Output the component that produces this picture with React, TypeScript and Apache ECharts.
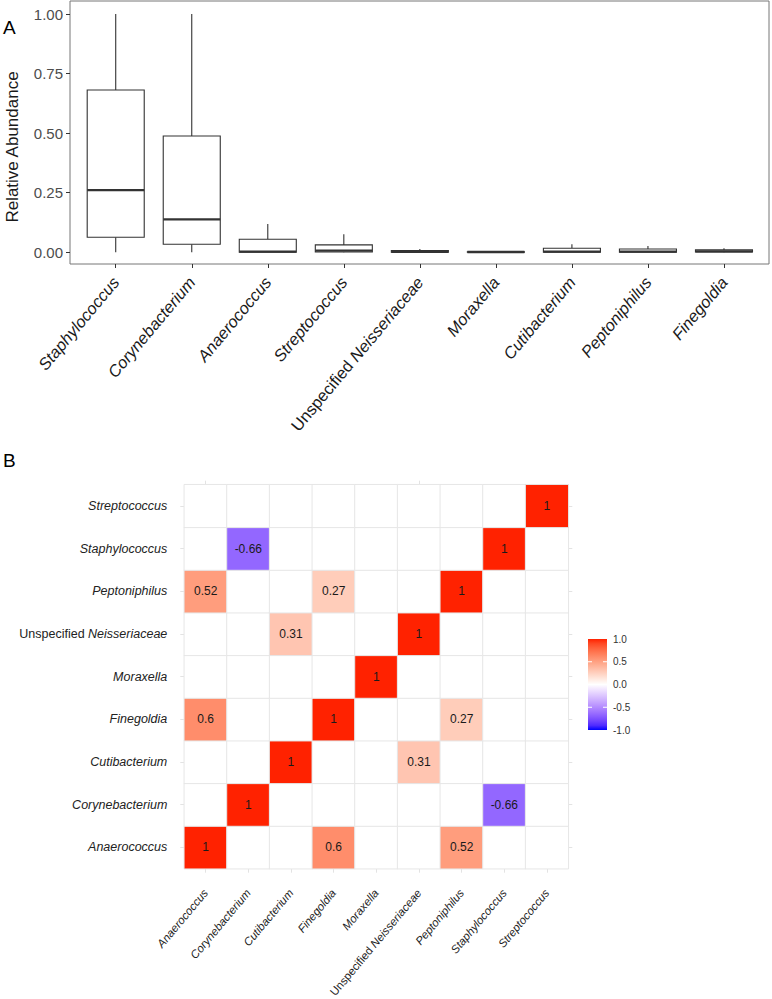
import React, { useEffect, useRef } from "react";
import * as echarts from "echarts";

// ---------- Panel A data (box plot of relative abundance) ----------
const boxCategories = [
  "Staphylococcus",
  "Corynebacterium",
  "Anaerococcus",
  "Streptococcus",
  "Unspecified Neisseriaceae",
  "Moraxella",
  "Cutibacterium",
  "Peptoniphilus",
  "Finegoldia",
];
const boxMin = [0, 0, 0, 0, 0, 0, 0, 0, 0];
const boxQ1 = [0.063, 0.034, 0, 0.001, 0, 0, 0, 0, 0.001];
const boxMedian = [0.261, 0.138, 0.003, 0.007, 0.002, 0.001, 0.003, 0.003, 0.004];
const boxQ3 = [0.681, 0.488, 0.055, 0.031, 0.007, 0.002, 0.017, 0.014, 0.01];
const boxMax = [1.0, 1.0, 0.119, 0.076, 0.014, 0.003, 0.034, 0.026, 0.017];
const abundanceTicks = { min: 0, max: 1, step: 0.25 };

// ---------- Panel B data (correlation matrix) ----------
const corrTaxa = [
  "Anaerococcus",
  "Corynebacterium",
  "Cutibacterium",
  "Finegoldia",
  "Moraxella",
  "Unspecified Neisseriaceae",
  "Peptoniphilus",
  "Staphylococcus",
  "Streptococcus",
];
// significant cells: column taxon, row taxon, correlation
const corrCol = [
  "Anaerococcus", "Corynebacterium", "Cutibacterium", "Finegoldia", "Moraxella",
  "Unspecified Neisseriaceae", "Peptoniphilus", "Staphylococcus", "Streptococcus",
  "Corynebacterium", "Staphylococcus",
  "Anaerococcus", "Peptoniphilus",
  "Finegoldia", "Peptoniphilus",
  "Cutibacterium", "Unspecified Neisseriaceae",
  "Anaerococcus", "Finegoldia",
];
const corrRow = [
  "Anaerococcus", "Corynebacterium", "Cutibacterium", "Finegoldia", "Moraxella",
  "Unspecified Neisseriaceae", "Peptoniphilus", "Staphylococcus", "Streptococcus",
  "Staphylococcus", "Corynebacterium",
  "Peptoniphilus", "Anaerococcus",
  "Peptoniphilus", "Finegoldia",
  "Unspecified Neisseriaceae", "Cutibacterium",
  "Finegoldia", "Anaerococcus",
];
const corrValue = [
  1, 1, 1, 1, 1, 1, 1, 1, 1,
  -0.66, -0.66,
  0.52, 0.52,
  0.27, 0.27,
  0.31, 0.31,
  0.6, 0.6,
];
const legendTicks = [1.0, 0.5, 0.0, -0.5, -1.0];

// ---------- colour helpers (Lab interpolation, like scale_fill_gradient2) ----------
const HIGH = "#ff2200";
const LOW = "#0000ff";
function toLin(c: number) {
  c /= 255;
  return c <= 0.04045 ? c / 12.92 : Math.pow((c + 0.055) / 1.055, 2.4);
}
function fromLin(c: number) {
  const v = c <= 0.0031308 ? 12.92 * c : 1.055 * Math.pow(Math.max(c, 0), 1 / 2.4) - 0.055;
  return Math.round(Math.max(0, Math.min(1, v)) * 255);
}
function hexToLab(hex: string) {
  const r = toLin(parseInt(hex.slice(1, 3), 16));
  const g = toLin(parseInt(hex.slice(3, 5), 16));
  const b = toLin(parseInt(hex.slice(5, 7), 16));
  const X = (0.4124 * r + 0.3576 * g + 0.1805 * b) / 0.95047;
  const Y = 0.2126 * r + 0.7152 * g + 0.0722 * b;
  const Z = (0.0193 * r + 0.1192 * g + 0.9505 * b) / 1.08883;
  const f = (t: number) => (t > 0.008856 ? Math.cbrt(t) : 7.787 * t + 16 / 116);
  const fx = f(X), fy = f(Y), fz = f(Z);
  return [116 * fy - 16, 500 * (fx - fy), 200 * (fy - fz)];
}
function labToHex(L: number, a: number, b: number) {
  const fy = (L + 16) / 116;
  const fx = fy + a / 500;
  const fz = fy - b / 200;
  const inv = (t: number) => (t * t * t > 0.008856 ? t * t * t : (t - 16 / 116) / 7.787);
  const X = inv(fx) * 0.95047, Y = inv(fy), Z = inv(fz) * 1.08883;
  const r = 3.2406 * X - 1.5372 * Y - 0.4986 * Z;
  const g = -0.9689 * X + 1.8758 * Y + 0.0415 * Z;
  const bb = 0.0557 * X - 0.204 * Y + 1.057 * Z;
  const h = (v: number) => v.toString(16).padStart(2, "0");
  return "#" + h(fromLin(r)) + h(fromLin(g)) + h(fromLin(bb));
}
const WHITE_LAB = hexToLab("#ffffff");
const HIGH_LAB = hexToLab(HIGH);
const LOW_LAB = hexToLab(LOW);
function colorAt(v: number) {
  const t = Math.min(1, Math.abs(v));
  const end = v >= 0 ? HIGH_LAB : LOW_LAB;
  return labToHex(
    WHITE_LAB[0] + (end[0] - WHITE_LAB[0]) * t,
    WHITE_LAB[1] + (end[1] - WHITE_LAB[1]) * t,
    WHITE_LAB[2] + (end[2] - WHITE_LAB[2]) * t
  );
}

const FONT = "'Liberation Sans', Arial, Helvetica, sans-serif";

function taxonLabel(v: string) {
  if (v.startsWith("Unspecified ")) return "{n|Unspecified }{i|" + v.slice(12) + "}";
  return "{i|" + v + "}";
}
function richFor(size: number, color: string) {
  return {
    n: { fontStyle: "normal", fontSize: size, color, fontFamily: FONT },
    i: { fontStyle: "italic", fontSize: size, color, fontFamily: FONT },
  };
}

export default function App() {
  const ref = useRef<HTMLDivElement>(null);

  useEffect(() => {
    if (!ref.current) return;
    const chart = echarts.init(ref.current, undefined, { renderer: "svg" });

    const boxData = boxCategories.map((_, i) => [
      i, boxMin[i], boxQ1[i], boxMedian[i], boxQ3[i], boxMax[i],
    ]);

    const cellMap: Record<string, number> = {};
    corrCol.forEach((c, k) => {
      cellMap[c + "|" + corrRow[k]] = corrValue[k];
    });
    const heatData: any[] = [];
    corrTaxa.forEach((cx, xi) => {
      corrTaxa.forEach((ry, yi) => {
        const key = cx + "|" + ry;
        heatData.push([xi, yi, key in cellMap ? cellMap[key] : 0, key in cellMap ? 1 : 0]);
      });
    });

    const stops: string[] = [];
    for (let k = 0; k <= 40; k++) stops.push(colorAt(-1 + k * 0.05));

    // legend layout
    const lgX = 588, lgY = 639, lgW = 19, lgH = 91;
    const lgPos = (v: number) => lgY + ((1 - v) / 2) * lgH;
    const gradStops = [];
    for (let k = 0; k <= 20; k++) {
      const v = 1 - k * 0.1;
      gradStops.push({ offset: k / 20, color: colorAt(v) });
    }
    const legendGraphics: any[] = [
      {
        type: "rect",
        shape: { x: lgX, y: lgY, width: lgW, height: lgH },
        style: { fill: new echarts.graphic.LinearGradient(0, 0, 0, 1, gradStops) },
      },
    ];
    legendTicks.forEach((v) => {
      const y = lgPos(v);
      legendGraphics.push({
        type: "text",
        x: lgX + lgW + 6,
        y,
        style: {
          text: v.toFixed(1),
          fontSize: 10,
          fill: "#333333",
          fontFamily: FONT,
          textAlign: "left",
          textVerticalAlign: "middle",
        },
      });
      if (v > -1 && v < 1) {
        legendGraphics.push(
          { type: "line", shape: { x1: lgX, y1: y, x2: lgX + 4, y2: y }, style: { stroke: "#fff", lineWidth: 1 } },
          { type: "line", shape: { x1: lgX + lgW - 4, y1: y, x2: lgX + lgW, y2: y }, style: { stroke: "#fff", lineWidth: 1 } }
        );
      }
    });

    const stubTick = { show: true, alignWithLabel: true, length: 4, lineStyle: { color: "#e3e3e3", width: 1 } };

    const option: any = {
      animation: false,
      backgroundColor: "#ffffff",
      textStyle: { fontFamily: FONT },
      grid: [
        { left: 70, top: 1, width: 699, height: 263, show: true, borderColor: "#777", borderWidth: 1, backgroundColor: "transparent", containLabel: false, outerBoundsMode: "none" },
        { left: 77.7, top: 14, width: 684.3, height: 238.3, containLabel: false, outerBoundsMode: "none" },
        { left: 184.3, top: 484.7, width: 384, height: 384, containLabel: false, outerBoundsMode: "none" },
      ],
      xAxis: [
        { gridIndex: 0, type: "value", show: false, min: 0, max: 1 },
        {
          gridIndex: 1,
          type: "category",
          data: boxCategories,
          offset: 11.7,
          axisLine: { show: false, onZero: false },
          axisTick: { show: true, alignWithLabel: true, length: 4, lineStyle: { color: "#333" } },
          axisLabel: {
            interval: 0,
            rotate: 50,
            margin: 15,
            formatter: taxonLabel,
            rich: richFor(16.5, "#1a1a1a"),
          },
          splitLine: { show: false },
        },
        {
          gridIndex: 2,
          type: "category",
          data: corrTaxa,
          position: "bottom",
          axisLine: { show: false, onZero: false },
          axisTick: stubTick,
          axisLabel: {
            interval: 0,
            rotate: 50,
            margin: 22,
            formatter: taxonLabel,
            rich: richFor(11.4, "#222"),
          },
          splitLine: { show: false },
        },
        {
          gridIndex: 2,
          type: "category",
          data: corrTaxa,
          position: "top",
          axisLine: { show: false, onZero: false },
          axisTick: stubTick,
          axisLabel: { show: false },
          splitLine: { show: false },
        },
      ],
      yAxis: [
        { gridIndex: 0, type: "value", show: false, min: 0, max: 1 },
        {
          gridIndex: 1,
          type: "value",
          min: abundanceTicks.min,
          max: abundanceTicks.max,
          interval: abundanceTicks.step,
          offset: 7.7,
          axisLine: { show: false, onZero: false },
          axisTick: { show: true, length: 4, lineStyle: { color: "#333" } },
          axisLabel: {
            margin: 7,
            fontSize: 15,
            color: "#4d4d4d",
            formatter: (v: number) => v.toFixed(2),
          },
          splitLine: { show: false },
        },
        {
          gridIndex: 2,
          type: "category",
          data: corrTaxa,
          position: "left",
          axisLine: { show: false, onZero: false },
          axisTick: stubTick,
          axisLabel: {
            interval: 0,
            margin: 17,
            formatter: taxonLabel,
            rich: richFor(12.5, "#222"),
          },
          splitLine: { show: false },
        },
        {
          gridIndex: 2,
          type: "category",
          data: corrTaxa,
          position: "right",
          axisLine: { show: false, onZero: false },
          axisTick: stubTick,
          axisLabel: { show: false },
          splitLine: { show: false },
        },
      ],
      visualMap: {
        type: "continuous",
        show: false,
        min: -1,
        max: 1,
        dimension: 2,
        seriesIndex: 1,
        inRange: { color: stops },
      },
      series: [
        {
          type: "custom",
          xAxisIndex: 1,
          yAxisIndex: 1,
          data: boxData,
          encode: { x: 0, y: [1, 2, 3, 4, 5] },
          renderItem: (params: any, api: any) => {
            const i = api.value(0);
            const pMin = api.coord([i, api.value(1)]);
            const pQ1 = api.coord([i, api.value(2)]);
            const pMed = api.coord([i, api.value(3)]);
            const pQ3 = api.coord([i, api.value(4)]);
            const pMax = api.coord([i, api.value(5)]);
            const band = api.size([1, 0])[0];
            const half = band * 0.375;
            const cx = pMed[0];
            const stroke = "#333";
            return {
              type: "group",
              children: [
                { type: "line", shape: { x1: cx, y1: pMax[1], x2: cx, y2: pQ3[1] }, style: { stroke, lineWidth: 1.1 } },
                { type: "line", shape: { x1: cx, y1: pQ1[1], x2: cx, y2: pMin[1] }, style: { stroke, lineWidth: 1.1 } },
                {
                  type: "rect",
                  shape: { x: cx - half, y: pQ3[1], width: half * 2, height: Math.max(pQ1[1] - pQ3[1], 0.5) },
                  style: { fill: "#fff", stroke, lineWidth: 1.1 },
                },
                { type: "line", shape: { x1: cx - half, y1: pMed[1], x2: cx + half, y2: pMed[1] }, style: { stroke, lineWidth: 2.4 } },
              ],
            };
          },
        },
        {
          type: "heatmap",
          xAxisIndex: 2,
          yAxisIndex: 2,
          data: heatData,
          itemStyle: { borderColor: "#e6e6e6", borderWidth: 1 },
          label: {
            show: true,
            fontSize: 12,
            color: "#1a1a1a",
            fontFamily: FONT,
            formatter: (p: any) => (p.value[3] ? String(p.value[2]) : ""),
          },
          emphasis: { disabled: true },
        },
      ],
      graphic: [
        {
          type: "text",
          x: 3,
          y: 27,
          style: { text: "A", fontSize: 19, fill: "#000", fontFamily: FONT, textVerticalAlign: "middle" },
        },
        {
          type: "text",
          x: 3,
          y: 460,
          style: { text: "B", fontSize: 19, fill: "#000", fontFamily: FONT, textVerticalAlign: "middle" },
        },
        {
          type: "text",
          x: 12,
          y: 147,
          rotation: Math.PI / 2,
          style: {
            text: "Relative Abundance",
            fontSize: 17,
            fill: "#1a1a1a",
            fontFamily: FONT,
            textAlign: "center",
            textVerticalAlign: "middle",
          },
        },
        ...legendGraphics,
      ],
    };

    chart.setOption(option);
    return () => chart.dispose();
  }, []);

  return (
    <div
      ref={ref}
      style={{ position: "absolute", left: 0, top: 0, width: 772, height: 999, background: "#fff" }}
    />
  );
}
